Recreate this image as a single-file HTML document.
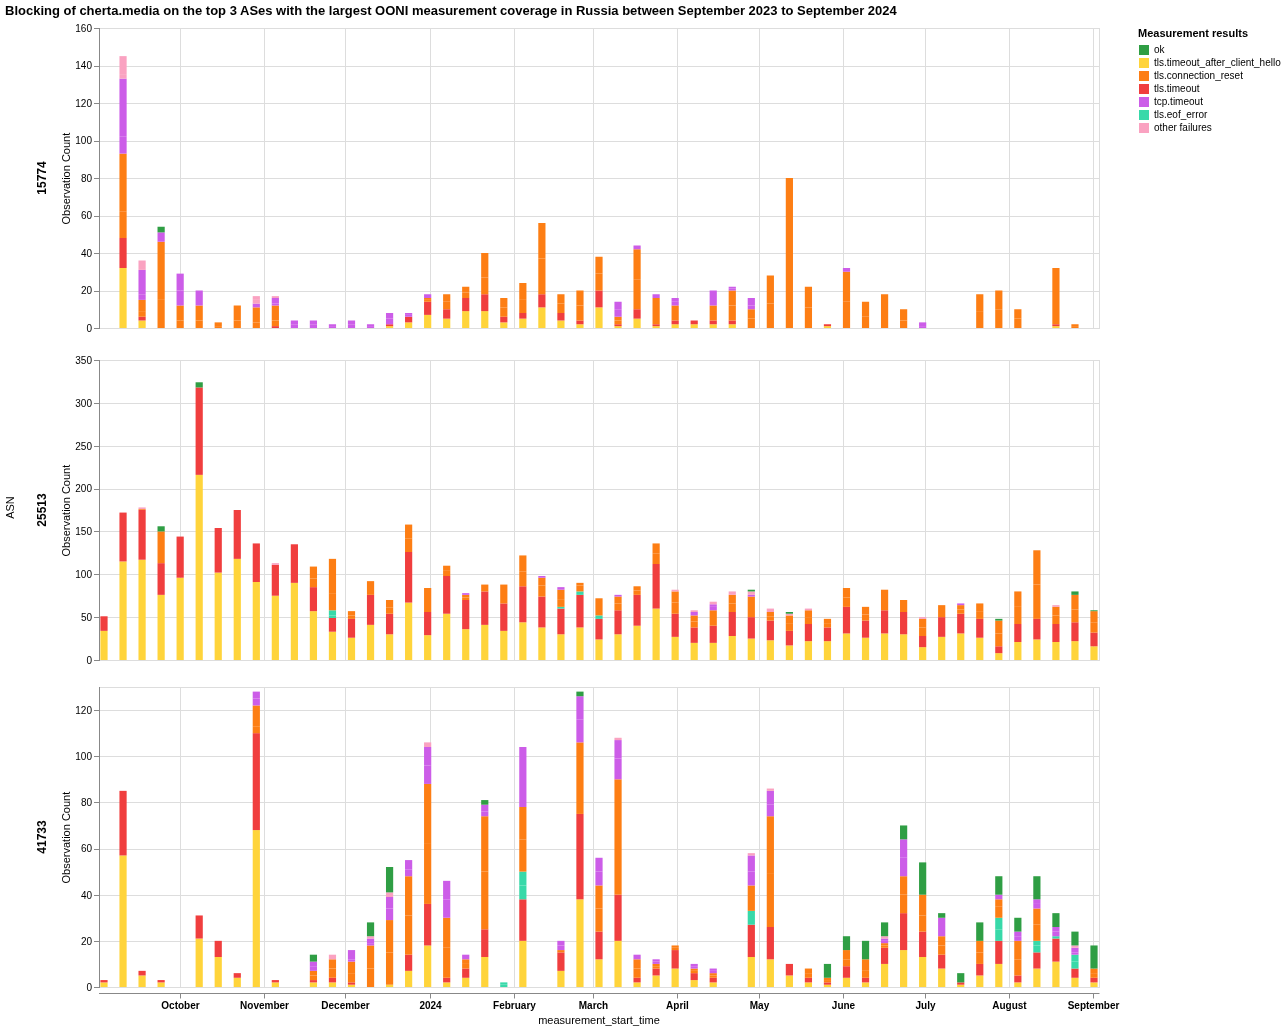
<!DOCTYPE html><html><head><meta charset="utf-8"><style>html,body{margin:0;padding:0;background:#fff;overflow:hidden}svg{display:block;will-change:transform}text{font-family:"Liberation Sans",sans-serif}</style></head><body>
<svg width="1286" height="1030" viewBox="0 0 1286 1030">
<rect width="1286" height="1030" fill="#fff"/>
<text x="5" y="15" font-size="13" font-weight="bold" fill="#000">Blocking of cherta.media on the top 3 ASes with the largest OONI measurement coverage in Russia between September 2023 to September 2024</text>
<path d="M99,328.5H1099M99,291.5H1099M99,253.5H1099M99,216.5H1099M99,178.5H1099M99,141.5H1099M99,103.5H1099M99,66.5H1099M99,28.5H1099M180.5,28V328M264.5,28V328M345.5,28V328M430.5,28V328M514.5,28V328M593.5,28V328M677.5,28V328M759.5,28V328M843.5,28V328M925.5,28V328M1009.5,28V328M1093.5,28V328" stroke="#ddd" stroke-width="1" fill="none"/>
<path d="M99,28.5H1099.5M1099.5,28V329" stroke="#ddd" fill="none"/>
<rect x="119.44" y="268.000" width="7.2" height="60.000" fill="#ffd43b"/>
<rect x="119.44" y="238.000" width="7.2" height="30.000" fill="#f03e3e"/>
<rect x="119.44" y="211.750" width="7.2" height="26.250" fill="#fd7e14"/>
<rect x="119.44" y="153.625" width="7.2" height="58.125" fill="#fd7e14"/>
<rect x="119.44" y="136.750" width="7.2" height="16.875" fill="#cc5de8"/>
<rect x="119.44" y="78.625" width="7.2" height="58.125" fill="#cc5de8"/>
<rect x="119.44" y="74.875" width="7.2" height="3.750" fill="#faa2c1"/>
<rect x="119.44" y="56.125" width="7.2" height="18.750" fill="#faa2c1"/>
<rect x="138.48" y="320.500" width="7.2" height="7.500" fill="#ffd43b"/>
<rect x="138.48" y="316.750" width="7.2" height="3.750" fill="#f03e3e"/>
<rect x="138.48" y="311.125" width="7.2" height="5.625" fill="#fd7e14"/>
<rect x="138.48" y="299.875" width="7.2" height="11.250" fill="#fd7e14"/>
<rect x="138.48" y="294.250" width="7.2" height="5.625" fill="#cc5de8"/>
<rect x="138.48" y="269.875" width="7.2" height="24.375" fill="#cc5de8"/>
<rect x="138.48" y="260.500" width="7.2" height="9.375" fill="#faa2c1"/>
<rect x="157.52" y="299.875" width="7.2" height="28.125" fill="#fd7e14"/>
<rect x="157.52" y="241.750" width="7.2" height="58.125" fill="#fd7e14"/>
<rect x="157.52" y="232.375" width="7.2" height="9.375" fill="#cc5de8"/>
<rect x="157.52" y="226.750" width="7.2" height="5.625" fill="#2f9e44"/>
<rect x="176.55" y="320.500" width="7.2" height="7.500" fill="#fd7e14"/>
<rect x="176.55" y="305.500" width="7.2" height="15.000" fill="#fd7e14"/>
<rect x="176.55" y="290.500" width="7.2" height="15.000" fill="#cc5de8"/>
<rect x="176.55" y="273.625" width="7.2" height="16.875" fill="#cc5de8"/>
<rect x="195.59" y="320.500" width="7.2" height="7.500" fill="#fd7e14"/>
<rect x="195.59" y="305.500" width="7.2" height="15.000" fill="#fd7e14"/>
<rect x="195.59" y="290.500" width="7.2" height="15.000" fill="#cc5de8"/>
<rect x="214.63" y="326.125" width="7.2" height="1.875" fill="#fd7e14"/>
<rect x="214.63" y="322.375" width="7.2" height="3.750" fill="#fd7e14"/>
<rect x="233.67" y="320.500" width="7.2" height="7.500" fill="#fd7e14"/>
<rect x="233.67" y="305.500" width="7.2" height="15.000" fill="#fd7e14"/>
<rect x="252.71" y="322.375" width="7.2" height="5.625" fill="#fd7e14"/>
<rect x="252.71" y="307.375" width="7.2" height="15.000" fill="#fd7e14"/>
<rect x="252.71" y="303.625" width="7.2" height="3.750" fill="#cc5de8"/>
<rect x="252.71" y="299.875" width="7.2" height="3.750" fill="#faa2c1"/>
<rect x="252.71" y="296.125" width="7.2" height="3.750" fill="#faa2c1"/>
<rect x="271.75" y="326.125" width="7.2" height="1.875" fill="#f03e3e"/>
<rect x="271.75" y="320.500" width="7.2" height="5.625" fill="#fd7e14"/>
<rect x="271.75" y="305.500" width="7.2" height="15.000" fill="#fd7e14"/>
<rect x="271.75" y="303.625" width="7.2" height="1.875" fill="#cc5de8"/>
<rect x="271.75" y="298.000" width="7.2" height="5.625" fill="#cc5de8"/>
<rect x="271.75" y="296.125" width="7.2" height="1.875" fill="#faa2c1"/>
<rect x="290.78" y="324.250" width="7.2" height="3.750" fill="#cc5de8"/>
<rect x="290.78" y="320.500" width="7.2" height="3.750" fill="#cc5de8"/>
<rect x="309.82" y="324.250" width="7.2" height="3.750" fill="#cc5de8"/>
<rect x="309.82" y="320.500" width="7.2" height="3.750" fill="#cc5de8"/>
<rect x="328.86" y="326.125" width="7.2" height="1.875" fill="#cc5de8"/>
<rect x="328.86" y="324.250" width="7.2" height="1.875" fill="#cc5de8"/>
<rect x="347.90" y="324.250" width="7.2" height="3.750" fill="#cc5de8"/>
<rect x="347.90" y="320.500" width="7.2" height="3.750" fill="#cc5de8"/>
<rect x="366.94" y="326.125" width="7.2" height="1.875" fill="#cc5de8"/>
<rect x="366.94" y="324.250" width="7.2" height="1.875" fill="#cc5de8"/>
<rect x="385.98" y="326.125" width="7.2" height="1.875" fill="#ffd43b"/>
<rect x="385.98" y="324.250" width="7.2" height="1.875" fill="#f03e3e"/>
<rect x="385.98" y="318.625" width="7.2" height="5.625" fill="#cc5de8"/>
<rect x="385.98" y="313.000" width="7.2" height="5.625" fill="#cc5de8"/>
<rect x="405.02" y="322.375" width="7.2" height="5.625" fill="#ffd43b"/>
<rect x="405.02" y="316.750" width="7.2" height="5.625" fill="#f03e3e"/>
<rect x="405.02" y="314.875" width="7.2" height="1.875" fill="#cc5de8"/>
<rect x="405.02" y="313.000" width="7.2" height="1.875" fill="#cc5de8"/>
<rect x="424.05" y="314.875" width="7.2" height="13.125" fill="#ffd43b"/>
<rect x="424.05" y="301.750" width="7.2" height="13.125" fill="#f03e3e"/>
<rect x="424.05" y="299.875" width="7.2" height="1.875" fill="#fd7e14"/>
<rect x="424.05" y="298.000" width="7.2" height="1.875" fill="#fd7e14"/>
<rect x="424.05" y="294.250" width="7.2" height="3.750" fill="#cc5de8"/>
<rect x="443.09" y="318.625" width="7.2" height="9.375" fill="#ffd43b"/>
<rect x="443.09" y="309.250" width="7.2" height="9.375" fill="#f03e3e"/>
<rect x="443.09" y="301.750" width="7.2" height="7.500" fill="#fd7e14"/>
<rect x="443.09" y="294.250" width="7.2" height="7.500" fill="#fd7e14"/>
<rect x="462.13" y="311.125" width="7.2" height="16.875" fill="#ffd43b"/>
<rect x="462.13" y="298.000" width="7.2" height="13.125" fill="#f03e3e"/>
<rect x="462.13" y="292.375" width="7.2" height="5.625" fill="#fd7e14"/>
<rect x="462.13" y="286.750" width="7.2" height="5.625" fill="#fd7e14"/>
<rect x="481.17" y="311.125" width="7.2" height="16.875" fill="#ffd43b"/>
<rect x="481.17" y="294.250" width="7.2" height="16.875" fill="#f03e3e"/>
<rect x="481.17" y="277.375" width="7.2" height="16.875" fill="#fd7e14"/>
<rect x="481.17" y="253.000" width="7.2" height="24.375" fill="#fd7e14"/>
<rect x="500.21" y="322.375" width="7.2" height="5.625" fill="#ffd43b"/>
<rect x="500.21" y="316.750" width="7.2" height="5.625" fill="#f03e3e"/>
<rect x="500.21" y="307.375" width="7.2" height="9.375" fill="#fd7e14"/>
<rect x="500.21" y="298.000" width="7.2" height="9.375" fill="#fd7e14"/>
<rect x="519.25" y="318.625" width="7.2" height="9.375" fill="#ffd43b"/>
<rect x="519.25" y="313.000" width="7.2" height="5.625" fill="#f03e3e"/>
<rect x="519.25" y="299.875" width="7.2" height="13.125" fill="#fd7e14"/>
<rect x="519.25" y="283.000" width="7.2" height="16.875" fill="#fd7e14"/>
<rect x="538.28" y="307.375" width="7.2" height="20.625" fill="#ffd43b"/>
<rect x="538.28" y="294.250" width="7.2" height="13.125" fill="#f03e3e"/>
<rect x="538.28" y="258.625" width="7.2" height="35.625" fill="#fd7e14"/>
<rect x="538.28" y="223.000" width="7.2" height="35.625" fill="#fd7e14"/>
<rect x="557.32" y="320.500" width="7.2" height="7.500" fill="#ffd43b"/>
<rect x="557.32" y="313.000" width="7.2" height="7.500" fill="#f03e3e"/>
<rect x="557.32" y="303.625" width="7.2" height="9.375" fill="#fd7e14"/>
<rect x="557.32" y="294.250" width="7.2" height="9.375" fill="#fd7e14"/>
<rect x="576.36" y="324.250" width="7.2" height="3.750" fill="#ffd43b"/>
<rect x="576.36" y="320.500" width="7.2" height="3.750" fill="#f03e3e"/>
<rect x="576.36" y="305.500" width="7.2" height="15.000" fill="#fd7e14"/>
<rect x="576.36" y="290.500" width="7.2" height="15.000" fill="#fd7e14"/>
<rect x="595.40" y="307.375" width="7.2" height="20.625" fill="#ffd43b"/>
<rect x="595.40" y="290.500" width="7.2" height="16.875" fill="#f03e3e"/>
<rect x="595.40" y="273.625" width="7.2" height="16.875" fill="#fd7e14"/>
<rect x="595.40" y="256.750" width="7.2" height="16.875" fill="#fd7e14"/>
<rect x="614.44" y="326.125" width="7.2" height="1.875" fill="#ffd43b"/>
<rect x="614.44" y="324.250" width="7.2" height="1.875" fill="#f03e3e"/>
<rect x="614.44" y="320.500" width="7.2" height="3.750" fill="#fd7e14"/>
<rect x="614.44" y="316.750" width="7.2" height="3.750" fill="#fd7e14"/>
<rect x="614.44" y="309.250" width="7.2" height="7.500" fill="#cc5de8"/>
<rect x="614.44" y="301.750" width="7.2" height="7.500" fill="#cc5de8"/>
<rect x="633.48" y="318.625" width="7.2" height="9.375" fill="#ffd43b"/>
<rect x="633.48" y="309.250" width="7.2" height="9.375" fill="#f03e3e"/>
<rect x="633.48" y="279.250" width="7.2" height="30.000" fill="#fd7e14"/>
<rect x="633.48" y="249.250" width="7.2" height="30.000" fill="#fd7e14"/>
<rect x="633.48" y="245.500" width="7.2" height="3.750" fill="#cc5de8"/>
<rect x="652.52" y="326.125" width="7.2" height="1.875" fill="#ffd43b"/>
<rect x="652.52" y="324.250" width="7.2" height="1.875" fill="#f03e3e"/>
<rect x="652.52" y="298.000" width="7.2" height="26.250" fill="#fd7e14"/>
<rect x="652.52" y="294.250" width="7.2" height="3.750" fill="#cc5de8"/>
<rect x="671.55" y="324.250" width="7.2" height="3.750" fill="#ffd43b"/>
<rect x="671.55" y="320.500" width="7.2" height="3.750" fill="#f03e3e"/>
<rect x="671.55" y="305.500" width="7.2" height="15.000" fill="#fd7e14"/>
<rect x="671.55" y="301.750" width="7.2" height="3.750" fill="#cc5de8"/>
<rect x="671.55" y="298.000" width="7.2" height="3.750" fill="#cc5de8"/>
<rect x="690.59" y="324.250" width="7.2" height="3.750" fill="#ffd43b"/>
<rect x="690.59" y="320.500" width="7.2" height="3.750" fill="#f03e3e"/>
<rect x="709.63" y="324.250" width="7.2" height="3.750" fill="#ffd43b"/>
<rect x="709.63" y="320.500" width="7.2" height="3.750" fill="#f03e3e"/>
<rect x="709.63" y="305.500" width="7.2" height="15.000" fill="#fd7e14"/>
<rect x="709.63" y="290.500" width="7.2" height="15.000" fill="#cc5de8"/>
<rect x="728.67" y="324.250" width="7.2" height="3.750" fill="#ffd43b"/>
<rect x="728.67" y="320.500" width="7.2" height="3.750" fill="#f03e3e"/>
<rect x="728.67" y="305.500" width="7.2" height="15.000" fill="#fd7e14"/>
<rect x="728.67" y="290.500" width="7.2" height="15.000" fill="#fd7e14"/>
<rect x="728.67" y="288.625" width="7.2" height="1.875" fill="#cc5de8"/>
<rect x="728.67" y="286.750" width="7.2" height="1.875" fill="#cc5de8"/>
<rect x="747.71" y="318.625" width="7.2" height="9.375" fill="#fd7e14"/>
<rect x="747.71" y="309.250" width="7.2" height="9.375" fill="#fd7e14"/>
<rect x="747.71" y="305.500" width="7.2" height="3.750" fill="#cc5de8"/>
<rect x="747.71" y="298.000" width="7.2" height="7.500" fill="#cc5de8"/>
<rect x="766.75" y="303.625" width="7.2" height="24.375" fill="#fd7e14"/>
<rect x="766.75" y="275.500" width="7.2" height="28.125" fill="#fd7e14"/>
<rect x="785.78" y="178.000" width="7.2" height="150.000" fill="#fd7e14"/>
<rect x="804.82" y="307.375" width="7.2" height="20.625" fill="#fd7e14"/>
<rect x="804.82" y="286.750" width="7.2" height="20.625" fill="#fd7e14"/>
<rect x="823.86" y="326.125" width="7.2" height="1.875" fill="#ffd43b"/>
<rect x="823.86" y="324.250" width="7.2" height="1.875" fill="#f03e3e"/>
<rect x="842.90" y="301.750" width="7.2" height="26.250" fill="#fd7e14"/>
<rect x="842.90" y="271.750" width="7.2" height="30.000" fill="#fd7e14"/>
<rect x="842.90" y="268.000" width="7.2" height="3.750" fill="#cc5de8"/>
<rect x="861.94" y="316.750" width="7.2" height="11.250" fill="#fd7e14"/>
<rect x="861.94" y="301.750" width="7.2" height="15.000" fill="#fd7e14"/>
<rect x="880.98" y="294.250" width="7.2" height="33.750" fill="#fd7e14"/>
<rect x="900.02" y="320.500" width="7.2" height="7.500" fill="#fd7e14"/>
<rect x="900.02" y="309.250" width="7.2" height="11.250" fill="#fd7e14"/>
<rect x="919.05" y="326.125" width="7.2" height="1.875" fill="#cc5de8"/>
<rect x="919.05" y="322.375" width="7.2" height="3.750" fill="#cc5de8"/>
<rect x="976.17" y="311.125" width="7.2" height="16.875" fill="#fd7e14"/>
<rect x="976.17" y="294.250" width="7.2" height="16.875" fill="#fd7e14"/>
<rect x="995.21" y="309.250" width="7.2" height="18.750" fill="#fd7e14"/>
<rect x="995.21" y="290.500" width="7.2" height="18.750" fill="#fd7e14"/>
<rect x="1014.25" y="318.625" width="7.2" height="9.375" fill="#fd7e14"/>
<rect x="1014.25" y="309.250" width="7.2" height="9.375" fill="#fd7e14"/>
<rect x="1052.32" y="326.125" width="7.2" height="1.875" fill="#ffd43b"/>
<rect x="1052.32" y="324.250" width="7.2" height="1.875" fill="#f03e3e"/>
<rect x="1052.32" y="298.000" width="7.2" height="26.250" fill="#fd7e14"/>
<rect x="1052.32" y="268.000" width="7.2" height="30.000" fill="#fd7e14"/>
<rect x="1071.36" y="326.125" width="7.2" height="1.875" fill="#fd7e14"/>
<rect x="1071.36" y="324.250" width="7.2" height="1.875" fill="#fd7e14"/>
<path d="M99.5,28V329" stroke="#888" fill="none"/>
<path d="M94,328.5H99M94,291.5H99M94,253.5H99M94,216.5H99M94,178.5H99M94,141.5H99M94,103.5H99M94,66.5H99M94,28.5H99" stroke="#888" fill="none"/>
<text x="92" y="331.90" font-size="10" text-anchor="end" fill="#000">0</text><text x="92" y="294.40" font-size="10" text-anchor="end" fill="#000">20</text><text x="92" y="256.90" font-size="10" text-anchor="end" fill="#000">40</text><text x="92" y="219.40" font-size="10" text-anchor="end" fill="#000">60</text><text x="92" y="181.90" font-size="10" text-anchor="end" fill="#000">80</text><text x="92" y="144.40" font-size="10" text-anchor="end" fill="#000">100</text><text x="92" y="106.90" font-size="10" text-anchor="end" fill="#000">120</text><text x="92" y="69.40" font-size="10" text-anchor="end" fill="#000">140</text><text x="92" y="31.90" font-size="10" text-anchor="end" fill="#000">160</text>
<text transform="translate(70.1,178.6) rotate(-90)" font-size="11" text-anchor="middle" fill="#000">Observation Count</text>
<text transform="translate(46.3,178.0) rotate(-90)" font-size="12" font-weight="bold" text-anchor="middle" fill="#000">15774</text>
<path d="M99,660.5H1099M99,617.5H1099M99,574.5H1099M99,531.5H1099M99,489.5H1099M99,446.5H1099M99,403.5H1099M99,360.5H1099M180.5,360V660M264.5,360V660M345.5,360V660M430.5,360V660M514.5,360V660M593.5,360V660M677.5,360V660M759.5,360V660M843.5,360V660M925.5,360V660M1009.5,360V660M1093.5,360V660" stroke="#ddd" stroke-width="1" fill="none"/>
<path d="M99,360.5H1099.5M1099.5,360V661" stroke="#ddd" fill="none"/>
<rect x="100.40" y="630.857" width="7.2" height="29.143" fill="#ffd43b"/>
<rect x="100.40" y="616.286" width="7.2" height="14.571" fill="#f03e3e"/>
<rect x="119.44" y="561.429" width="7.2" height="98.571" fill="#ffd43b"/>
<rect x="119.44" y="512.571" width="7.2" height="48.857" fill="#f03e3e"/>
<rect x="138.48" y="559.714" width="7.2" height="100.286" fill="#ffd43b"/>
<rect x="138.48" y="510.000" width="7.2" height="49.714" fill="#f03e3e"/>
<rect x="138.48" y="509.143" width="7.2" height="0.857" fill="#fd7e14"/>
<rect x="138.48" y="507.429" width="7.2" height="1.714" fill="#faa2c1"/>
<rect x="157.52" y="594.857" width="7.2" height="65.143" fill="#ffd43b"/>
<rect x="157.52" y="563.143" width="7.2" height="31.714" fill="#f03e3e"/>
<rect x="157.52" y="552.000" width="7.2" height="11.143" fill="#fd7e14"/>
<rect x="157.52" y="531.429" width="7.2" height="20.571" fill="#fd7e14"/>
<rect x="157.52" y="526.286" width="7.2" height="5.143" fill="#2f9e44"/>
<rect x="176.55" y="577.714" width="7.2" height="82.286" fill="#ffd43b"/>
<rect x="176.55" y="536.571" width="7.2" height="41.143" fill="#f03e3e"/>
<rect x="195.59" y="474.857" width="7.2" height="185.143" fill="#ffd43b"/>
<rect x="195.59" y="387.429" width="7.2" height="87.429" fill="#f03e3e"/>
<rect x="195.59" y="382.286" width="7.2" height="5.143" fill="#2f9e44"/>
<rect x="214.63" y="572.571" width="7.2" height="87.429" fill="#ffd43b"/>
<rect x="214.63" y="528.000" width="7.2" height="44.571" fill="#f03e3e"/>
<rect x="233.67" y="558.857" width="7.2" height="101.143" fill="#ffd43b"/>
<rect x="233.67" y="510.000" width="7.2" height="48.857" fill="#f03e3e"/>
<rect x="252.71" y="582.000" width="7.2" height="78.000" fill="#ffd43b"/>
<rect x="252.71" y="543.429" width="7.2" height="38.571" fill="#f03e3e"/>
<rect x="271.75" y="595.714" width="7.2" height="64.286" fill="#ffd43b"/>
<rect x="271.75" y="564.857" width="7.2" height="30.857" fill="#f03e3e"/>
<rect x="271.75" y="563.143" width="7.2" height="1.714" fill="#faa2c1"/>
<rect x="290.78" y="582.857" width="7.2" height="77.143" fill="#ffd43b"/>
<rect x="290.78" y="544.286" width="7.2" height="38.571" fill="#f03e3e"/>
<rect x="309.82" y="611.143" width="7.2" height="48.857" fill="#ffd43b"/>
<rect x="309.82" y="587.143" width="7.2" height="24.000" fill="#f03e3e"/>
<rect x="309.82" y="578.571" width="7.2" height="8.571" fill="#fd7e14"/>
<rect x="309.82" y="566.571" width="7.2" height="12.000" fill="#fd7e14"/>
<rect x="328.86" y="631.714" width="7.2" height="28.286" fill="#ffd43b"/>
<rect x="328.86" y="618.000" width="7.2" height="13.714" fill="#f03e3e"/>
<rect x="328.86" y="615.429" width="7.2" height="2.571" fill="#38d9a9"/>
<rect x="328.86" y="610.286" width="7.2" height="5.143" fill="#38d9a9"/>
<rect x="328.86" y="593.143" width="7.2" height="17.143" fill="#fd7e14"/>
<rect x="328.86" y="558.857" width="7.2" height="34.286" fill="#fd7e14"/>
<rect x="347.90" y="637.714" width="7.2" height="22.286" fill="#ffd43b"/>
<rect x="347.90" y="618.857" width="7.2" height="18.857" fill="#f03e3e"/>
<rect x="347.90" y="615.429" width="7.2" height="3.429" fill="#fd7e14"/>
<rect x="347.90" y="611.143" width="7.2" height="4.286" fill="#fd7e14"/>
<rect x="366.94" y="624.857" width="7.2" height="35.143" fill="#ffd43b"/>
<rect x="366.94" y="594.857" width="7.2" height="30.000" fill="#f03e3e"/>
<rect x="366.94" y="581.143" width="7.2" height="13.714" fill="#fd7e14"/>
<rect x="385.98" y="634.286" width="7.2" height="25.714" fill="#ffd43b"/>
<rect x="385.98" y="613.714" width="7.2" height="20.571" fill="#f03e3e"/>
<rect x="385.98" y="607.714" width="7.2" height="6.000" fill="#fd7e14"/>
<rect x="385.98" y="600.000" width="7.2" height="7.714" fill="#fd7e14"/>
<rect x="405.02" y="602.571" width="7.2" height="57.429" fill="#ffd43b"/>
<rect x="405.02" y="552.000" width="7.2" height="50.571" fill="#f03e3e"/>
<rect x="405.02" y="538.286" width="7.2" height="13.714" fill="#fd7e14"/>
<rect x="405.02" y="524.571" width="7.2" height="13.714" fill="#fd7e14"/>
<rect x="424.05" y="635.143" width="7.2" height="24.857" fill="#ffd43b"/>
<rect x="424.05" y="612.000" width="7.2" height="23.143" fill="#f03e3e"/>
<rect x="424.05" y="588.000" width="7.2" height="24.000" fill="#fd7e14"/>
<rect x="443.09" y="613.714" width="7.2" height="46.286" fill="#ffd43b"/>
<rect x="443.09" y="576.000" width="7.2" height="37.714" fill="#f03e3e"/>
<rect x="443.09" y="570.857" width="7.2" height="5.143" fill="#fd7e14"/>
<rect x="443.09" y="565.714" width="7.2" height="5.143" fill="#fd7e14"/>
<rect x="462.13" y="629.143" width="7.2" height="30.857" fill="#ffd43b"/>
<rect x="462.13" y="600.000" width="7.2" height="29.143" fill="#f03e3e"/>
<rect x="462.13" y="597.429" width="7.2" height="2.571" fill="#fd7e14"/>
<rect x="462.13" y="594.857" width="7.2" height="2.571" fill="#fd7e14"/>
<rect x="462.13" y="593.143" width="7.2" height="1.714" fill="#cc5de8"/>
<rect x="481.17" y="624.857" width="7.2" height="35.143" fill="#ffd43b"/>
<rect x="481.17" y="591.429" width="7.2" height="33.429" fill="#f03e3e"/>
<rect x="481.17" y="584.571" width="7.2" height="6.857" fill="#fd7e14"/>
<rect x="500.21" y="630.857" width="7.2" height="29.143" fill="#ffd43b"/>
<rect x="500.21" y="603.429" width="7.2" height="27.429" fill="#f03e3e"/>
<rect x="500.21" y="584.571" width="7.2" height="18.857" fill="#fd7e14"/>
<rect x="519.25" y="622.286" width="7.2" height="37.714" fill="#ffd43b"/>
<rect x="519.25" y="586.286" width="7.2" height="36.000" fill="#f03e3e"/>
<rect x="519.25" y="571.714" width="7.2" height="14.571" fill="#fd7e14"/>
<rect x="519.25" y="555.429" width="7.2" height="16.286" fill="#fd7e14"/>
<rect x="538.28" y="627.429" width="7.2" height="32.571" fill="#ffd43b"/>
<rect x="538.28" y="596.571" width="7.2" height="30.857" fill="#f03e3e"/>
<rect x="538.28" y="585.429" width="7.2" height="11.143" fill="#fd7e14"/>
<rect x="538.28" y="577.714" width="7.2" height="7.714" fill="#fd7e14"/>
<rect x="538.28" y="576.000" width="7.2" height="1.714" fill="#cc5de8"/>
<rect x="557.32" y="634.286" width="7.2" height="25.714" fill="#ffd43b"/>
<rect x="557.32" y="608.571" width="7.2" height="25.714" fill="#f03e3e"/>
<rect x="557.32" y="606.857" width="7.2" height="1.714" fill="#38d9a9"/>
<rect x="557.32" y="599.143" width="7.2" height="7.714" fill="#fd7e14"/>
<rect x="557.32" y="589.714" width="7.2" height="9.429" fill="#fd7e14"/>
<rect x="557.32" y="587.143" width="7.2" height="2.571" fill="#cc5de8"/>
<rect x="576.36" y="627.429" width="7.2" height="32.571" fill="#ffd43b"/>
<rect x="576.36" y="594.857" width="7.2" height="32.571" fill="#f03e3e"/>
<rect x="576.36" y="591.429" width="7.2" height="3.429" fill="#38d9a9"/>
<rect x="576.36" y="585.429" width="7.2" height="6.000" fill="#fd7e14"/>
<rect x="576.36" y="582.857" width="7.2" height="2.571" fill="#fd7e14"/>
<rect x="595.40" y="639.429" width="7.2" height="20.571" fill="#ffd43b"/>
<rect x="595.40" y="618.857" width="7.2" height="20.571" fill="#f03e3e"/>
<rect x="595.40" y="615.429" width="7.2" height="3.429" fill="#38d9a9"/>
<rect x="595.40" y="606.000" width="7.2" height="9.429" fill="#fd7e14"/>
<rect x="595.40" y="598.286" width="7.2" height="7.714" fill="#fd7e14"/>
<rect x="614.44" y="634.286" width="7.2" height="25.714" fill="#ffd43b"/>
<rect x="614.44" y="610.286" width="7.2" height="24.000" fill="#f03e3e"/>
<rect x="614.44" y="603.429" width="7.2" height="6.857" fill="#fd7e14"/>
<rect x="614.44" y="596.571" width="7.2" height="6.857" fill="#fd7e14"/>
<rect x="614.44" y="594.857" width="7.2" height="1.714" fill="#cc5de8"/>
<rect x="633.48" y="625.714" width="7.2" height="34.286" fill="#ffd43b"/>
<rect x="633.48" y="594.857" width="7.2" height="30.857" fill="#f03e3e"/>
<rect x="633.48" y="590.571" width="7.2" height="4.286" fill="#fd7e14"/>
<rect x="633.48" y="586.286" width="7.2" height="4.286" fill="#fd7e14"/>
<rect x="652.52" y="608.571" width="7.2" height="51.429" fill="#ffd43b"/>
<rect x="652.52" y="564.000" width="7.2" height="44.571" fill="#f03e3e"/>
<rect x="652.52" y="553.714" width="7.2" height="10.286" fill="#fd7e14"/>
<rect x="652.52" y="543.429" width="7.2" height="10.286" fill="#fd7e14"/>
<rect x="671.55" y="636.857" width="7.2" height="23.143" fill="#ffd43b"/>
<rect x="671.55" y="613.714" width="7.2" height="23.143" fill="#f03e3e"/>
<rect x="671.55" y="602.571" width="7.2" height="11.143" fill="#fd7e14"/>
<rect x="671.55" y="591.429" width="7.2" height="11.143" fill="#fd7e14"/>
<rect x="671.55" y="589.714" width="7.2" height="1.714" fill="#faa2c1"/>
<rect x="690.59" y="642.857" width="7.2" height="17.143" fill="#ffd43b"/>
<rect x="690.59" y="627.429" width="7.2" height="15.429" fill="#f03e3e"/>
<rect x="690.59" y="621.429" width="7.2" height="6.000" fill="#fd7e14"/>
<rect x="690.59" y="615.429" width="7.2" height="6.000" fill="#fd7e14"/>
<rect x="690.59" y="612.000" width="7.2" height="3.429" fill="#cc5de8"/>
<rect x="690.59" y="610.286" width="7.2" height="1.714" fill="#faa2c1"/>
<rect x="709.63" y="642.857" width="7.2" height="17.143" fill="#ffd43b"/>
<rect x="709.63" y="625.714" width="7.2" height="17.143" fill="#f03e3e"/>
<rect x="709.63" y="610.286" width="7.2" height="15.429" fill="#fd7e14"/>
<rect x="709.63" y="606.857" width="7.2" height="3.429" fill="#cc5de8"/>
<rect x="709.63" y="604.286" width="7.2" height="2.571" fill="#cc5de8"/>
<rect x="709.63" y="601.714" width="7.2" height="2.571" fill="#faa2c1"/>
<rect x="728.67" y="636.000" width="7.2" height="24.000" fill="#ffd43b"/>
<rect x="728.67" y="612.000" width="7.2" height="24.000" fill="#f03e3e"/>
<rect x="728.67" y="603.429" width="7.2" height="8.571" fill="#fd7e14"/>
<rect x="728.67" y="594.857" width="7.2" height="8.571" fill="#fd7e14"/>
<rect x="728.67" y="591.429" width="7.2" height="3.429" fill="#faa2c1"/>
<rect x="747.71" y="638.571" width="7.2" height="21.429" fill="#ffd43b"/>
<rect x="747.71" y="617.143" width="7.2" height="21.429" fill="#f03e3e"/>
<rect x="747.71" y="606.000" width="7.2" height="11.143" fill="#fd7e14"/>
<rect x="747.71" y="596.571" width="7.2" height="9.429" fill="#fd7e14"/>
<rect x="747.71" y="594.857" width="7.2" height="1.714" fill="#cc5de8"/>
<rect x="747.71" y="591.429" width="7.2" height="3.429" fill="#faa2c1"/>
<rect x="747.71" y="589.714" width="7.2" height="1.714" fill="#2f9e44"/>
<rect x="766.75" y="640.286" width="7.2" height="19.714" fill="#ffd43b"/>
<rect x="766.75" y="620.571" width="7.2" height="19.714" fill="#f03e3e"/>
<rect x="766.75" y="616.286" width="7.2" height="4.286" fill="#fd7e14"/>
<rect x="766.75" y="612.000" width="7.2" height="4.286" fill="#fd7e14"/>
<rect x="766.75" y="608.571" width="7.2" height="3.429" fill="#faa2c1"/>
<rect x="785.78" y="645.429" width="7.2" height="14.571" fill="#ffd43b"/>
<rect x="785.78" y="630.857" width="7.2" height="14.571" fill="#f03e3e"/>
<rect x="785.78" y="623.143" width="7.2" height="7.714" fill="#fd7e14"/>
<rect x="785.78" y="615.429" width="7.2" height="7.714" fill="#fd7e14"/>
<rect x="785.78" y="613.714" width="7.2" height="1.714" fill="#faa2c1"/>
<rect x="785.78" y="612.000" width="7.2" height="1.714" fill="#2f9e44"/>
<rect x="804.82" y="641.143" width="7.2" height="18.857" fill="#ffd43b"/>
<rect x="804.82" y="624.000" width="7.2" height="17.143" fill="#f03e3e"/>
<rect x="804.82" y="617.143" width="7.2" height="6.857" fill="#fd7e14"/>
<rect x="804.82" y="610.286" width="7.2" height="6.857" fill="#fd7e14"/>
<rect x="804.82" y="608.571" width="7.2" height="1.714" fill="#faa2c1"/>
<rect x="823.86" y="641.143" width="7.2" height="18.857" fill="#ffd43b"/>
<rect x="823.86" y="627.429" width="7.2" height="13.714" fill="#f03e3e"/>
<rect x="823.86" y="623.143" width="7.2" height="4.286" fill="#fd7e14"/>
<rect x="823.86" y="618.857" width="7.2" height="4.286" fill="#fd7e14"/>
<rect x="842.90" y="633.429" width="7.2" height="26.571" fill="#ffd43b"/>
<rect x="842.90" y="606.857" width="7.2" height="26.571" fill="#f03e3e"/>
<rect x="842.90" y="597.429" width="7.2" height="9.429" fill="#fd7e14"/>
<rect x="842.90" y="588.000" width="7.2" height="9.429" fill="#fd7e14"/>
<rect x="861.94" y="637.714" width="7.2" height="22.286" fill="#ffd43b"/>
<rect x="861.94" y="620.571" width="7.2" height="17.143" fill="#f03e3e"/>
<rect x="861.94" y="614.571" width="7.2" height="6.000" fill="#fd7e14"/>
<rect x="861.94" y="606.857" width="7.2" height="7.714" fill="#fd7e14"/>
<rect x="880.98" y="633.429" width="7.2" height="26.571" fill="#ffd43b"/>
<rect x="880.98" y="610.286" width="7.2" height="23.143" fill="#f03e3e"/>
<rect x="880.98" y="600.000" width="7.2" height="10.286" fill="#fd7e14"/>
<rect x="880.98" y="589.714" width="7.2" height="10.286" fill="#fd7e14"/>
<rect x="900.02" y="634.286" width="7.2" height="25.714" fill="#ffd43b"/>
<rect x="900.02" y="612.000" width="7.2" height="22.286" fill="#f03e3e"/>
<rect x="900.02" y="600.000" width="7.2" height="12.000" fill="#fd7e14"/>
<rect x="919.05" y="647.143" width="7.2" height="12.857" fill="#ffd43b"/>
<rect x="919.05" y="636.000" width="7.2" height="11.143" fill="#f03e3e"/>
<rect x="919.05" y="627.429" width="7.2" height="8.571" fill="#fd7e14"/>
<rect x="919.05" y="618.857" width="7.2" height="8.571" fill="#fd7e14"/>
<rect x="919.05" y="617.143" width="7.2" height="1.714" fill="#faa2c1"/>
<rect x="938.09" y="636.857" width="7.2" height="23.143" fill="#ffd43b"/>
<rect x="938.09" y="617.143" width="7.2" height="19.714" fill="#f03e3e"/>
<rect x="938.09" y="605.143" width="7.2" height="12.000" fill="#fd7e14"/>
<rect x="957.13" y="633.429" width="7.2" height="26.571" fill="#ffd43b"/>
<rect x="957.13" y="613.714" width="7.2" height="19.714" fill="#f03e3e"/>
<rect x="957.13" y="609.429" width="7.2" height="4.286" fill="#fd7e14"/>
<rect x="957.13" y="605.143" width="7.2" height="4.286" fill="#fd7e14"/>
<rect x="957.13" y="603.429" width="7.2" height="1.714" fill="#cc5de8"/>
<rect x="976.17" y="637.714" width="7.2" height="22.286" fill="#ffd43b"/>
<rect x="976.17" y="618.857" width="7.2" height="18.857" fill="#f03e3e"/>
<rect x="976.17" y="611.143" width="7.2" height="7.714" fill="#fd7e14"/>
<rect x="976.17" y="603.429" width="7.2" height="7.714" fill="#fd7e14"/>
<rect x="995.21" y="653.143" width="7.2" height="6.857" fill="#ffd43b"/>
<rect x="995.21" y="646.286" width="7.2" height="6.857" fill="#f03e3e"/>
<rect x="995.21" y="633.429" width="7.2" height="12.857" fill="#fd7e14"/>
<rect x="995.21" y="620.571" width="7.2" height="12.857" fill="#fd7e14"/>
<rect x="995.21" y="618.857" width="7.2" height="1.714" fill="#2f9e44"/>
<rect x="1014.25" y="642.000" width="7.2" height="18.000" fill="#ffd43b"/>
<rect x="1014.25" y="624.000" width="7.2" height="18.000" fill="#f03e3e"/>
<rect x="1014.25" y="606.857" width="7.2" height="17.143" fill="#fd7e14"/>
<rect x="1014.25" y="591.429" width="7.2" height="15.429" fill="#fd7e14"/>
<rect x="1033.28" y="639.429" width="7.2" height="20.571" fill="#ffd43b"/>
<rect x="1033.28" y="618.857" width="7.2" height="20.571" fill="#f03e3e"/>
<rect x="1033.28" y="584.571" width="7.2" height="34.286" fill="#fd7e14"/>
<rect x="1033.28" y="550.286" width="7.2" height="34.286" fill="#fd7e14"/>
<rect x="1052.32" y="642.000" width="7.2" height="18.000" fill="#ffd43b"/>
<rect x="1052.32" y="624.000" width="7.2" height="18.000" fill="#f03e3e"/>
<rect x="1052.32" y="615.429" width="7.2" height="8.571" fill="#fd7e14"/>
<rect x="1052.32" y="606.857" width="7.2" height="8.571" fill="#fd7e14"/>
<rect x="1052.32" y="605.143" width="7.2" height="1.714" fill="#faa2c1"/>
<rect x="1071.36" y="641.143" width="7.2" height="18.857" fill="#ffd43b"/>
<rect x="1071.36" y="622.286" width="7.2" height="18.857" fill="#f03e3e"/>
<rect x="1071.36" y="609.429" width="7.2" height="12.857" fill="#fd7e14"/>
<rect x="1071.36" y="594.857" width="7.2" height="14.571" fill="#fd7e14"/>
<rect x="1071.36" y="591.429" width="7.2" height="3.429" fill="#2f9e44"/>
<rect x="1090.40" y="646.286" width="7.2" height="13.714" fill="#ffd43b"/>
<rect x="1090.40" y="632.571" width="7.2" height="13.714" fill="#f03e3e"/>
<rect x="1090.40" y="622.286" width="7.2" height="10.286" fill="#fd7e14"/>
<rect x="1090.40" y="611.143" width="7.2" height="11.143" fill="#fd7e14"/>
<rect x="1090.40" y="610.286" width="7.2" height="0.857" fill="#2f9e44"/>
<path d="M99.5,360V661" stroke="#888" fill="none"/>
<path d="M94,660.5H99M94,617.5H99M94,574.5H99M94,531.5H99M94,489.5H99M94,446.5H99M94,403.5H99M94,360.5H99" stroke="#888" fill="none"/>
<text x="92" y="663.90" font-size="10" text-anchor="end" fill="#000">0</text><text x="92" y="621.04" font-size="10" text-anchor="end" fill="#000">50</text><text x="92" y="578.19" font-size="10" text-anchor="end" fill="#000">100</text><text x="92" y="535.33" font-size="10" text-anchor="end" fill="#000">150</text><text x="92" y="492.47" font-size="10" text-anchor="end" fill="#000">200</text><text x="92" y="449.61" font-size="10" text-anchor="end" fill="#000">250</text><text x="92" y="406.76" font-size="10" text-anchor="end" fill="#000">300</text><text x="92" y="363.90" font-size="10" text-anchor="end" fill="#000">350</text>
<text transform="translate(70.1,510.6) rotate(-90)" font-size="11" text-anchor="middle" fill="#000">Observation Count</text>
<text transform="translate(46.3,510.0) rotate(-90)" font-size="12" font-weight="bold" text-anchor="middle" fill="#000">25513</text>
<path d="M99,987.5H1099M99,941.5H1099M99,895.5H1099M99,849.5H1099M99,802.5H1099M99,756.5H1099M99,710.5H1099M180.5,687V987M264.5,687V987M345.5,687V987M430.5,687V987M514.5,687V987M593.5,687V987M677.5,687V987M759.5,687V987M843.5,687V987M925.5,687V987M1009.5,687V987M1093.5,687V987" stroke="#ddd" stroke-width="1" fill="none"/>
<path d="M99,687.5H1099.5M1099.5,687V988" stroke="#ddd" fill="none"/>
<rect x="100.40" y="982.385" width="7.2" height="4.615" fill="#ffd43b"/>
<rect x="100.40" y="980.077" width="7.2" height="2.308" fill="#f03e3e"/>
<rect x="119.44" y="855.462" width="7.2" height="131.538" fill="#ffd43b"/>
<rect x="119.44" y="790.846" width="7.2" height="64.615" fill="#f03e3e"/>
<rect x="138.48" y="975.462" width="7.2" height="11.538" fill="#ffd43b"/>
<rect x="138.48" y="970.846" width="7.2" height="4.615" fill="#f03e3e"/>
<rect x="157.52" y="982.385" width="7.2" height="4.615" fill="#ffd43b"/>
<rect x="157.52" y="980.077" width="7.2" height="2.308" fill="#f03e3e"/>
<rect x="195.59" y="938.538" width="7.2" height="48.462" fill="#ffd43b"/>
<rect x="195.59" y="915.462" width="7.2" height="23.077" fill="#f03e3e"/>
<rect x="214.63" y="957.000" width="7.2" height="30.000" fill="#ffd43b"/>
<rect x="214.63" y="940.846" width="7.2" height="16.154" fill="#f03e3e"/>
<rect x="233.67" y="977.769" width="7.2" height="9.231" fill="#ffd43b"/>
<rect x="233.67" y="973.154" width="7.2" height="4.615" fill="#f03e3e"/>
<rect x="252.71" y="830.077" width="7.2" height="156.923" fill="#ffd43b"/>
<rect x="252.71" y="733.154" width="7.2" height="96.923" fill="#f03e3e"/>
<rect x="252.71" y="726.231" width="7.2" height="6.923" fill="#fd7e14"/>
<rect x="252.71" y="705.462" width="7.2" height="20.769" fill="#fd7e14"/>
<rect x="252.71" y="698.538" width="7.2" height="6.923" fill="#cc5de8"/>
<rect x="252.71" y="691.615" width="7.2" height="6.923" fill="#cc5de8"/>
<rect x="271.75" y="982.385" width="7.2" height="4.615" fill="#ffd43b"/>
<rect x="271.75" y="980.077" width="7.2" height="2.308" fill="#f03e3e"/>
<rect x="309.82" y="982.385" width="7.2" height="4.615" fill="#ffd43b"/>
<rect x="309.82" y="980.077" width="7.2" height="2.308" fill="#f03e3e"/>
<rect x="309.82" y="975.462" width="7.2" height="4.615" fill="#fd7e14"/>
<rect x="309.82" y="970.846" width="7.2" height="4.615" fill="#fd7e14"/>
<rect x="309.82" y="966.231" width="7.2" height="4.615" fill="#cc5de8"/>
<rect x="309.82" y="961.615" width="7.2" height="4.615" fill="#cc5de8"/>
<rect x="309.82" y="954.692" width="7.2" height="6.923" fill="#2f9e44"/>
<rect x="328.86" y="982.385" width="7.2" height="4.615" fill="#ffd43b"/>
<rect x="328.86" y="977.769" width="7.2" height="4.615" fill="#f03e3e"/>
<rect x="328.86" y="968.538" width="7.2" height="9.231" fill="#fd7e14"/>
<rect x="328.86" y="959.308" width="7.2" height="9.231" fill="#fd7e14"/>
<rect x="328.86" y="954.692" width="7.2" height="4.615" fill="#faa2c1"/>
<rect x="347.90" y="984.692" width="7.2" height="2.308" fill="#ffd43b"/>
<rect x="347.90" y="982.385" width="7.2" height="2.308" fill="#f03e3e"/>
<rect x="347.90" y="973.154" width="7.2" height="9.231" fill="#fd7e14"/>
<rect x="347.90" y="961.615" width="7.2" height="11.538" fill="#fd7e14"/>
<rect x="347.90" y="959.308" width="7.2" height="2.308" fill="#cc5de8"/>
<rect x="347.90" y="950.077" width="7.2" height="9.231" fill="#cc5de8"/>
<rect x="366.94" y="968.538" width="7.2" height="18.462" fill="#fd7e14"/>
<rect x="366.94" y="945.462" width="7.2" height="23.077" fill="#fd7e14"/>
<rect x="366.94" y="943.154" width="7.2" height="2.308" fill="#cc5de8"/>
<rect x="366.94" y="938.538" width="7.2" height="4.615" fill="#cc5de8"/>
<rect x="366.94" y="936.231" width="7.2" height="2.308" fill="#faa2c1"/>
<rect x="366.94" y="922.385" width="7.2" height="13.846" fill="#2f9e44"/>
<rect x="385.98" y="984.692" width="7.2" height="2.308" fill="#ffd43b"/>
<rect x="385.98" y="952.385" width="7.2" height="32.308" fill="#fd7e14"/>
<rect x="385.98" y="920.077" width="7.2" height="32.308" fill="#fd7e14"/>
<rect x="385.98" y="908.538" width="7.2" height="11.538" fill="#cc5de8"/>
<rect x="385.98" y="897.000" width="7.2" height="11.538" fill="#cc5de8"/>
<rect x="385.98" y="892.385" width="7.2" height="4.615" fill="#faa2c1"/>
<rect x="385.98" y="867.000" width="7.2" height="25.385" fill="#2f9e44"/>
<rect x="405.02" y="970.846" width="7.2" height="16.154" fill="#ffd43b"/>
<rect x="405.02" y="954.692" width="7.2" height="16.154" fill="#f03e3e"/>
<rect x="405.02" y="915.462" width="7.2" height="39.231" fill="#fd7e14"/>
<rect x="405.02" y="876.231" width="7.2" height="39.231" fill="#fd7e14"/>
<rect x="405.02" y="869.308" width="7.2" height="6.923" fill="#cc5de8"/>
<rect x="405.02" y="860.077" width="7.2" height="9.231" fill="#cc5de8"/>
<rect x="424.05" y="945.462" width="7.2" height="41.538" fill="#ffd43b"/>
<rect x="424.05" y="903.923" width="7.2" height="41.538" fill="#f03e3e"/>
<rect x="424.05" y="843.923" width="7.2" height="60.000" fill="#fd7e14"/>
<rect x="424.05" y="783.923" width="7.2" height="60.000" fill="#fd7e14"/>
<rect x="424.05" y="765.462" width="7.2" height="18.462" fill="#cc5de8"/>
<rect x="424.05" y="747.000" width="7.2" height="18.462" fill="#cc5de8"/>
<rect x="424.05" y="742.385" width="7.2" height="4.615" fill="#faa2c1"/>
<rect x="443.09" y="982.385" width="7.2" height="4.615" fill="#ffd43b"/>
<rect x="443.09" y="977.769" width="7.2" height="4.615" fill="#f03e3e"/>
<rect x="443.09" y="947.769" width="7.2" height="30.000" fill="#fd7e14"/>
<rect x="443.09" y="917.769" width="7.2" height="30.000" fill="#fd7e14"/>
<rect x="443.09" y="899.308" width="7.2" height="18.462" fill="#cc5de8"/>
<rect x="443.09" y="880.846" width="7.2" height="18.462" fill="#cc5de8"/>
<rect x="462.13" y="977.769" width="7.2" height="9.231" fill="#ffd43b"/>
<rect x="462.13" y="968.538" width="7.2" height="9.231" fill="#f03e3e"/>
<rect x="462.13" y="963.923" width="7.2" height="4.615" fill="#fd7e14"/>
<rect x="462.13" y="959.308" width="7.2" height="4.615" fill="#fd7e14"/>
<rect x="462.13" y="954.692" width="7.2" height="4.615" fill="#cc5de8"/>
<rect x="481.17" y="957.000" width="7.2" height="30.000" fill="#ffd43b"/>
<rect x="481.17" y="929.308" width="7.2" height="27.692" fill="#f03e3e"/>
<rect x="481.17" y="871.615" width="7.2" height="57.692" fill="#fd7e14"/>
<rect x="481.17" y="816.231" width="7.2" height="55.385" fill="#fd7e14"/>
<rect x="481.17" y="811.615" width="7.2" height="4.615" fill="#cc5de8"/>
<rect x="481.17" y="804.692" width="7.2" height="6.923" fill="#cc5de8"/>
<rect x="481.17" y="800.077" width="7.2" height="4.615" fill="#2f9e44"/>
<rect x="500.21" y="984.692" width="7.2" height="2.308" fill="#38d9a9"/>
<rect x="500.21" y="982.385" width="7.2" height="2.308" fill="#38d9a9"/>
<rect x="519.25" y="940.846" width="7.2" height="46.154" fill="#ffd43b"/>
<rect x="519.25" y="899.308" width="7.2" height="41.538" fill="#f03e3e"/>
<rect x="519.25" y="885.462" width="7.2" height="13.846" fill="#38d9a9"/>
<rect x="519.25" y="871.615" width="7.2" height="13.846" fill="#38d9a9"/>
<rect x="519.25" y="839.308" width="7.2" height="32.308" fill="#fd7e14"/>
<rect x="519.25" y="807.000" width="7.2" height="32.308" fill="#fd7e14"/>
<rect x="519.25" y="777.000" width="7.2" height="30.000" fill="#cc5de8"/>
<rect x="519.25" y="747.000" width="7.2" height="30.000" fill="#cc5de8"/>
<rect x="557.32" y="970.846" width="7.2" height="16.154" fill="#ffd43b"/>
<rect x="557.32" y="952.385" width="7.2" height="18.462" fill="#f03e3e"/>
<rect x="557.32" y="950.077" width="7.2" height="2.308" fill="#fd7e14"/>
<rect x="557.32" y="945.462" width="7.2" height="4.615" fill="#cc5de8"/>
<rect x="557.32" y="940.846" width="7.2" height="4.615" fill="#cc5de8"/>
<rect x="576.36" y="899.308" width="7.2" height="87.692" fill="#ffd43b"/>
<rect x="576.36" y="813.923" width="7.2" height="85.385" fill="#f03e3e"/>
<rect x="576.36" y="742.385" width="7.2" height="71.538" fill="#fd7e14"/>
<rect x="576.36" y="719.308" width="7.2" height="23.077" fill="#cc5de8"/>
<rect x="576.36" y="696.231" width="7.2" height="23.077" fill="#cc5de8"/>
<rect x="576.36" y="691.615" width="7.2" height="4.615" fill="#2f9e44"/>
<rect x="595.40" y="959.308" width="7.2" height="27.692" fill="#ffd43b"/>
<rect x="595.40" y="931.615" width="7.2" height="27.692" fill="#f03e3e"/>
<rect x="595.40" y="908.538" width="7.2" height="23.077" fill="#fd7e14"/>
<rect x="595.40" y="885.462" width="7.2" height="23.077" fill="#fd7e14"/>
<rect x="595.40" y="871.615" width="7.2" height="13.846" fill="#cc5de8"/>
<rect x="595.40" y="857.769" width="7.2" height="13.846" fill="#cc5de8"/>
<rect x="614.44" y="940.846" width="7.2" height="46.154" fill="#ffd43b"/>
<rect x="614.44" y="894.692" width="7.2" height="46.154" fill="#f03e3e"/>
<rect x="614.44" y="837.000" width="7.2" height="57.692" fill="#fd7e14"/>
<rect x="614.44" y="779.308" width="7.2" height="57.692" fill="#fd7e14"/>
<rect x="614.44" y="758.538" width="7.2" height="20.769" fill="#cc5de8"/>
<rect x="614.44" y="740.077" width="7.2" height="18.462" fill="#cc5de8"/>
<rect x="614.44" y="737.769" width="7.2" height="2.308" fill="#faa2c1"/>
<rect x="633.48" y="982.385" width="7.2" height="4.615" fill="#ffd43b"/>
<rect x="633.48" y="977.769" width="7.2" height="4.615" fill="#f03e3e"/>
<rect x="633.48" y="968.538" width="7.2" height="9.231" fill="#fd7e14"/>
<rect x="633.48" y="959.308" width="7.2" height="9.231" fill="#fd7e14"/>
<rect x="633.48" y="954.692" width="7.2" height="4.615" fill="#cc5de8"/>
<rect x="652.52" y="975.462" width="7.2" height="11.538" fill="#ffd43b"/>
<rect x="652.52" y="968.538" width="7.2" height="6.923" fill="#f03e3e"/>
<rect x="652.52" y="966.231" width="7.2" height="2.308" fill="#fd7e14"/>
<rect x="652.52" y="963.923" width="7.2" height="2.308" fill="#fd7e14"/>
<rect x="652.52" y="961.615" width="7.2" height="2.308" fill="#cc5de8"/>
<rect x="652.52" y="959.308" width="7.2" height="2.308" fill="#cc5de8"/>
<rect x="671.55" y="968.538" width="7.2" height="18.462" fill="#ffd43b"/>
<rect x="671.55" y="950.077" width="7.2" height="18.462" fill="#f03e3e"/>
<rect x="671.55" y="947.769" width="7.2" height="2.308" fill="#fd7e14"/>
<rect x="671.55" y="945.462" width="7.2" height="2.308" fill="#fd7e14"/>
<rect x="690.59" y="980.077" width="7.2" height="6.923" fill="#ffd43b"/>
<rect x="690.59" y="973.154" width="7.2" height="6.923" fill="#f03e3e"/>
<rect x="690.59" y="970.846" width="7.2" height="2.308" fill="#fd7e14"/>
<rect x="690.59" y="968.538" width="7.2" height="2.308" fill="#fd7e14"/>
<rect x="690.59" y="966.231" width="7.2" height="2.308" fill="#cc5de8"/>
<rect x="690.59" y="963.923" width="7.2" height="2.308" fill="#cc5de8"/>
<rect x="709.63" y="982.385" width="7.2" height="4.615" fill="#ffd43b"/>
<rect x="709.63" y="977.769" width="7.2" height="4.615" fill="#f03e3e"/>
<rect x="709.63" y="975.462" width="7.2" height="2.308" fill="#fd7e14"/>
<rect x="709.63" y="973.154" width="7.2" height="2.308" fill="#fd7e14"/>
<rect x="709.63" y="970.846" width="7.2" height="2.308" fill="#cc5de8"/>
<rect x="709.63" y="968.538" width="7.2" height="2.308" fill="#cc5de8"/>
<rect x="747.71" y="957.000" width="7.2" height="30.000" fill="#ffd43b"/>
<rect x="747.71" y="924.692" width="7.2" height="32.308" fill="#f03e3e"/>
<rect x="747.71" y="910.846" width="7.2" height="13.846" fill="#38d9a9"/>
<rect x="747.71" y="885.462" width="7.2" height="25.385" fill="#fd7e14"/>
<rect x="747.71" y="871.615" width="7.2" height="13.846" fill="#cc5de8"/>
<rect x="747.71" y="855.462" width="7.2" height="16.154" fill="#cc5de8"/>
<rect x="747.71" y="853.154" width="7.2" height="2.308" fill="#faa2c1"/>
<rect x="766.75" y="959.308" width="7.2" height="27.692" fill="#ffd43b"/>
<rect x="766.75" y="927.000" width="7.2" height="32.308" fill="#f03e3e"/>
<rect x="766.75" y="873.923" width="7.2" height="53.077" fill="#fd7e14"/>
<rect x="766.75" y="816.231" width="7.2" height="57.692" fill="#fd7e14"/>
<rect x="766.75" y="804.692" width="7.2" height="11.538" fill="#cc5de8"/>
<rect x="766.75" y="790.846" width="7.2" height="13.846" fill="#cc5de8"/>
<rect x="766.75" y="788.538" width="7.2" height="2.308" fill="#faa2c1"/>
<rect x="785.78" y="975.462" width="7.2" height="11.538" fill="#ffd43b"/>
<rect x="785.78" y="963.923" width="7.2" height="11.538" fill="#f03e3e"/>
<rect x="804.82" y="982.385" width="7.2" height="4.615" fill="#ffd43b"/>
<rect x="804.82" y="977.769" width="7.2" height="4.615" fill="#f03e3e"/>
<rect x="804.82" y="973.154" width="7.2" height="4.615" fill="#fd7e14"/>
<rect x="804.82" y="968.538" width="7.2" height="4.615" fill="#fd7e14"/>
<rect x="823.86" y="984.692" width="7.2" height="2.308" fill="#ffd43b"/>
<rect x="823.86" y="982.385" width="7.2" height="2.308" fill="#f03e3e"/>
<rect x="823.86" y="980.077" width="7.2" height="2.308" fill="#fd7e14"/>
<rect x="823.86" y="977.769" width="7.2" height="2.308" fill="#fd7e14"/>
<rect x="823.86" y="963.923" width="7.2" height="13.846" fill="#2f9e44"/>
<rect x="842.90" y="977.769" width="7.2" height="9.231" fill="#ffd43b"/>
<rect x="842.90" y="966.231" width="7.2" height="11.538" fill="#f03e3e"/>
<rect x="842.90" y="959.308" width="7.2" height="6.923" fill="#fd7e14"/>
<rect x="842.90" y="950.077" width="7.2" height="9.231" fill="#fd7e14"/>
<rect x="842.90" y="936.231" width="7.2" height="13.846" fill="#2f9e44"/>
<rect x="861.94" y="982.385" width="7.2" height="4.615" fill="#ffd43b"/>
<rect x="861.94" y="977.769" width="7.2" height="4.615" fill="#f03e3e"/>
<rect x="861.94" y="970.846" width="7.2" height="6.923" fill="#fd7e14"/>
<rect x="861.94" y="959.308" width="7.2" height="11.538" fill="#fd7e14"/>
<rect x="861.94" y="940.846" width="7.2" height="18.462" fill="#2f9e44"/>
<rect x="880.98" y="963.923" width="7.2" height="23.077" fill="#ffd43b"/>
<rect x="880.98" y="947.769" width="7.2" height="16.154" fill="#f03e3e"/>
<rect x="880.98" y="945.462" width="7.2" height="2.308" fill="#fd7e14"/>
<rect x="880.98" y="943.154" width="7.2" height="2.308" fill="#fd7e14"/>
<rect x="880.98" y="940.846" width="7.2" height="2.308" fill="#cc5de8"/>
<rect x="880.98" y="938.538" width="7.2" height="2.308" fill="#cc5de8"/>
<rect x="880.98" y="936.231" width="7.2" height="2.308" fill="#faa2c1"/>
<rect x="880.98" y="922.385" width="7.2" height="13.846" fill="#2f9e44"/>
<rect x="900.02" y="950.077" width="7.2" height="36.923" fill="#ffd43b"/>
<rect x="900.02" y="913.154" width="7.2" height="36.923" fill="#f03e3e"/>
<rect x="900.02" y="894.692" width="7.2" height="18.462" fill="#fd7e14"/>
<rect x="900.02" y="876.231" width="7.2" height="18.462" fill="#fd7e14"/>
<rect x="900.02" y="857.769" width="7.2" height="18.462" fill="#cc5de8"/>
<rect x="900.02" y="839.308" width="7.2" height="18.462" fill="#cc5de8"/>
<rect x="900.02" y="825.462" width="7.2" height="13.846" fill="#2f9e44"/>
<rect x="919.05" y="957.000" width="7.2" height="30.000" fill="#ffd43b"/>
<rect x="919.05" y="931.615" width="7.2" height="25.385" fill="#f03e3e"/>
<rect x="919.05" y="915.462" width="7.2" height="16.154" fill="#fd7e14"/>
<rect x="919.05" y="894.692" width="7.2" height="20.769" fill="#fd7e14"/>
<rect x="919.05" y="862.385" width="7.2" height="32.308" fill="#2f9e44"/>
<rect x="938.09" y="968.538" width="7.2" height="18.462" fill="#ffd43b"/>
<rect x="938.09" y="954.692" width="7.2" height="13.846" fill="#f03e3e"/>
<rect x="938.09" y="945.462" width="7.2" height="9.231" fill="#fd7e14"/>
<rect x="938.09" y="936.231" width="7.2" height="9.231" fill="#fd7e14"/>
<rect x="938.09" y="917.769" width="7.2" height="18.462" fill="#cc5de8"/>
<rect x="938.09" y="913.154" width="7.2" height="4.615" fill="#2f9e44"/>
<rect x="957.13" y="984.692" width="7.2" height="2.308" fill="#ffd43b"/>
<rect x="957.13" y="982.385" width="7.2" height="2.308" fill="#f03e3e"/>
<rect x="957.13" y="973.154" width="7.2" height="9.231" fill="#2f9e44"/>
<rect x="976.17" y="975.462" width="7.2" height="11.538" fill="#ffd43b"/>
<rect x="976.17" y="963.923" width="7.2" height="11.538" fill="#f03e3e"/>
<rect x="976.17" y="952.385" width="7.2" height="11.538" fill="#fd7e14"/>
<rect x="976.17" y="940.846" width="7.2" height="11.538" fill="#fd7e14"/>
<rect x="976.17" y="922.385" width="7.2" height="18.462" fill="#2f9e44"/>
<rect x="995.21" y="963.923" width="7.2" height="23.077" fill="#ffd43b"/>
<rect x="995.21" y="940.846" width="7.2" height="23.077" fill="#f03e3e"/>
<rect x="995.21" y="929.308" width="7.2" height="11.538" fill="#38d9a9"/>
<rect x="995.21" y="917.769" width="7.2" height="11.538" fill="#38d9a9"/>
<rect x="995.21" y="906.231" width="7.2" height="11.538" fill="#fd7e14"/>
<rect x="995.21" y="899.308" width="7.2" height="6.923" fill="#fd7e14"/>
<rect x="995.21" y="894.692" width="7.2" height="4.615" fill="#cc5de8"/>
<rect x="995.21" y="876.231" width="7.2" height="18.462" fill="#2f9e44"/>
<rect x="1014.25" y="982.385" width="7.2" height="4.615" fill="#ffd43b"/>
<rect x="1014.25" y="975.462" width="7.2" height="6.923" fill="#f03e3e"/>
<rect x="1014.25" y="959.308" width="7.2" height="16.154" fill="#fd7e14"/>
<rect x="1014.25" y="940.846" width="7.2" height="18.462" fill="#fd7e14"/>
<rect x="1014.25" y="936.231" width="7.2" height="4.615" fill="#cc5de8"/>
<rect x="1014.25" y="931.615" width="7.2" height="4.615" fill="#cc5de8"/>
<rect x="1014.25" y="917.769" width="7.2" height="13.846" fill="#2f9e44"/>
<rect x="1033.28" y="968.538" width="7.2" height="18.462" fill="#ffd43b"/>
<rect x="1033.28" y="952.385" width="7.2" height="16.154" fill="#f03e3e"/>
<rect x="1033.28" y="945.462" width="7.2" height="6.923" fill="#38d9a9"/>
<rect x="1033.28" y="940.846" width="7.2" height="4.615" fill="#38d9a9"/>
<rect x="1033.28" y="924.692" width="7.2" height="16.154" fill="#fd7e14"/>
<rect x="1033.28" y="908.538" width="7.2" height="16.154" fill="#fd7e14"/>
<rect x="1033.28" y="903.923" width="7.2" height="4.615" fill="#cc5de8"/>
<rect x="1033.28" y="899.308" width="7.2" height="4.615" fill="#cc5de8"/>
<rect x="1033.28" y="876.231" width="7.2" height="23.077" fill="#2f9e44"/>
<rect x="1052.32" y="961.615" width="7.2" height="25.385" fill="#ffd43b"/>
<rect x="1052.32" y="938.538" width="7.2" height="23.077" fill="#f03e3e"/>
<rect x="1052.32" y="936.231" width="7.2" height="2.308" fill="#38d9a9"/>
<rect x="1052.32" y="931.615" width="7.2" height="4.615" fill="#cc5de8"/>
<rect x="1052.32" y="927.000" width="7.2" height="4.615" fill="#cc5de8"/>
<rect x="1052.32" y="913.154" width="7.2" height="13.846" fill="#2f9e44"/>
<rect x="1071.36" y="977.769" width="7.2" height="9.231" fill="#ffd43b"/>
<rect x="1071.36" y="968.538" width="7.2" height="9.231" fill="#f03e3e"/>
<rect x="1071.36" y="961.615" width="7.2" height="6.923" fill="#38d9a9"/>
<rect x="1071.36" y="954.692" width="7.2" height="6.923" fill="#38d9a9"/>
<rect x="1071.36" y="952.385" width="7.2" height="2.308" fill="#cc5de8"/>
<rect x="1071.36" y="947.769" width="7.2" height="4.615" fill="#cc5de8"/>
<rect x="1071.36" y="945.462" width="7.2" height="2.308" fill="#faa2c1"/>
<rect x="1071.36" y="931.615" width="7.2" height="13.846" fill="#2f9e44"/>
<rect x="1090.40" y="982.385" width="7.2" height="4.615" fill="#ffd43b"/>
<rect x="1090.40" y="977.769" width="7.2" height="4.615" fill="#f03e3e"/>
<rect x="1090.40" y="973.154" width="7.2" height="4.615" fill="#fd7e14"/>
<rect x="1090.40" y="968.538" width="7.2" height="4.615" fill="#fd7e14"/>
<rect x="1090.40" y="945.462" width="7.2" height="23.077" fill="#2f9e44"/>
<path d="M99.5,687V988" stroke="#888" fill="none"/>
<path d="M94,987.5H99M94,941.5H99M94,895.5H99M94,849.5H99M94,802.5H99M94,756.5H99M94,710.5H99" stroke="#888" fill="none"/>
<text x="92" y="990.90" font-size="10" text-anchor="end" fill="#000">0</text><text x="92" y="944.75" font-size="10" text-anchor="end" fill="#000">20</text><text x="92" y="898.59" font-size="10" text-anchor="end" fill="#000">40</text><text x="92" y="852.44" font-size="10" text-anchor="end" fill="#000">60</text><text x="92" y="806.28" font-size="10" text-anchor="end" fill="#000">80</text><text x="92" y="760.13" font-size="10" text-anchor="end" fill="#000">100</text><text x="92" y="713.98" font-size="10" text-anchor="end" fill="#000">120</text>
<text transform="translate(70.1,837.6) rotate(-90)" font-size="11" text-anchor="middle" fill="#000">Observation Count</text>
<text transform="translate(46.3,837.0) rotate(-90)" font-size="12" font-weight="bold" text-anchor="middle" fill="#000">41733</text>
<path d="M99,993.5H1099.5M180.5,993.5V998.5M264.5,993.5V998.5M345.5,993.5V998.5M430.5,993.5V998.5M514.5,993.5V998.5M593.5,993.5V998.5M677.5,993.5V998.5M759.5,993.5V998.5M843.5,993.5V998.5M925.5,993.5V998.5M1009.5,993.5V998.5M1093.5,993.5V998.5" stroke="#888" fill="none"/>
<text x="180.5" y="1009" font-size="10" font-weight="bold" text-anchor="middle" fill="#000">October</text><text x="264.5" y="1009" font-size="10" font-weight="bold" text-anchor="middle" fill="#000">November</text><text x="345.5" y="1009" font-size="10" font-weight="bold" text-anchor="middle" fill="#000">December</text><text x="430.5" y="1009" font-size="10" font-weight="bold" text-anchor="middle" fill="#000">2024</text><text x="514.5" y="1009" font-size="10" font-weight="bold" text-anchor="middle" fill="#000">February</text><text x="593.5" y="1009" font-size="10" font-weight="bold" text-anchor="middle" fill="#000">March</text><text x="677.5" y="1009" font-size="10" font-weight="bold" text-anchor="middle" fill="#000">April</text><text x="759.5" y="1009" font-size="10" font-weight="bold" text-anchor="middle" fill="#000">May</text><text x="843.5" y="1009" font-size="10" font-weight="bold" text-anchor="middle" fill="#000">June</text><text x="925.5" y="1009" font-size="10" font-weight="bold" text-anchor="middle" fill="#000">July</text><text x="1009.5" y="1009" font-size="10" font-weight="bold" text-anchor="middle" fill="#000">August</text><text x="1093.5" y="1009" font-size="10" font-weight="bold" text-anchor="middle" fill="#000">September</text>
<text x="599" y="1023.5" font-size="11" text-anchor="middle" fill="#000">measurement_start_time</text>
<text transform="translate(14.3,507.5) rotate(-90)" font-size="11" text-anchor="middle" fill="#000">ASN</text>
<text x="1138" y="37" font-size="11" font-weight="bold" fill="#000">Measurement results</text>
<rect x="1139" y="45" width="10" height="10" fill="#2f9e44"/>
<text x="1154" y="52.6" font-size="10" fill="#000">ok</text>
<rect x="1139" y="58" width="10" height="10" fill="#ffd43b"/>
<text x="1154" y="65.6" font-size="10" fill="#000">tls.timeout_after_client_hello</text>
<rect x="1139" y="71" width="10" height="10" fill="#fd7e14"/>
<text x="1154" y="78.6" font-size="10" fill="#000">tls.connection_reset</text>
<rect x="1139" y="84" width="10" height="10" fill="#f03e3e"/>
<text x="1154" y="91.6" font-size="10" fill="#000">tls.timeout</text>
<rect x="1139" y="97" width="10" height="10" fill="#cc5de8"/>
<text x="1154" y="104.6" font-size="10" fill="#000">tcp.timeout</text>
<rect x="1139" y="110" width="10" height="10" fill="#38d9a9"/>
<text x="1154" y="117.6" font-size="10" fill="#000">tls.eof_error</text>
<rect x="1139" y="123" width="10" height="10" fill="#faa2c1"/>
<text x="1154" y="130.6" font-size="10" fill="#000">other failures</text>
</svg></body></html>
